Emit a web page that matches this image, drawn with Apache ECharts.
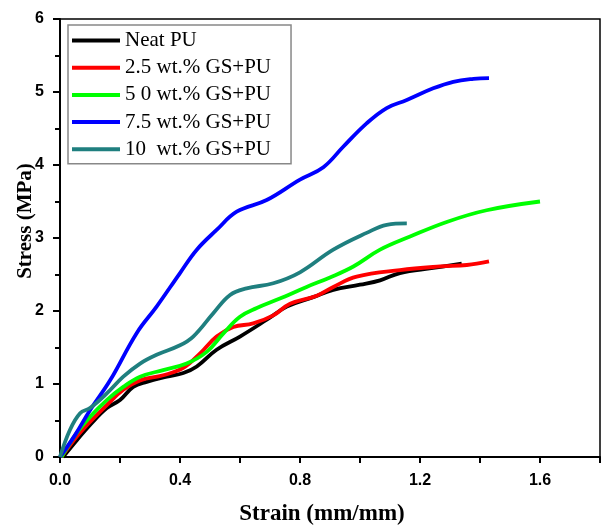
<!DOCTYPE html>
<html><head><meta charset="utf-8">
<script src="https://cdn.jsdelivr.net/npm/echarts@6/dist/echarts.min.js"></script>
<style>html,body{margin:0;padding:0;background:#fff}#c{width:601px;height:526px}</style>
</head><body><div id="c"></div>
<script>
const seriesNames = ['Neat PU', '2.5 wt.% GS+PU', '5 0 wt.% GS+PU', '7.5 wt.% GS+PU', '10  wt.% GS+PU'];
const seriesColors = ['#000000', '#ff0000', '#00ff00', '#0000ff', '#1f7f7f'];
const xTicks = [0.0, 0.4, 0.8, 1.2, 1.6];
const yTicks = [0, 1, 2, 3, 4, 5, 6];

const neatPU = [[0.01,0],[0.056,0.23],[0.1,0.44],[0.156,0.67],[0.2,0.78],[0.244,0.96],[0.289,1.03],[0.356,1.10],[0.411,1.15],[0.456,1.24],[0.522,1.47],[0.6,1.65],[0.689,1.88],[0.756,2.06],[0.844,2.19],[0.911,2.29],[1.0,2.36],[1.067,2.42],[1.133,2.52],[1.244,2.59],[1.339,2.65]];
const gs25 = [[0.005,0],[0.056,0.28],[0.1,0.48],[0.156,0.71],[0.211,0.92],[0.267,1.05],[0.344,1.12],[0.411,1.22],[0.467,1.42],[0.522,1.65],[0.578,1.78],[0.644,1.83],[0.711,1.94],[0.767,2.10],[0.856,2.21],[0.911,2.33],[0.989,2.47],[1.133,2.56],[1.267,2.61],[1.356,2.63],[1.43,2.68]];
const gs50 = [[0.005,0],[0.056,0.33],[0.1,0.55],[0.156,0.78],[0.211,0.96],[0.267,1.10],[0.344,1.19],[0.422,1.28],[0.489,1.44],[0.544,1.69],[0.6,1.92],[0.656,2.04],[0.733,2.17],[0.822,2.33],[0.9,2.46],[0.978,2.61],[1.067,2.84],[1.167,3.02],[1.289,3.22],[1.422,3.38],[1.6,3.5]];
const gs75 = [[0.0,0],[0.05,0.3],[0.1,0.64],[0.167,1.05],[0.256,1.70],[0.322,2.06],[0.4,2.52],[0.456,2.84],[0.522,3.11],[0.589,3.36],[0.689,3.52],[0.8,3.80],[0.878,3.97],[0.944,4.25],[1.022,4.57],[1.089,4.78],[1.156,4.89],[1.244,5.05],[1.311,5.14],[1.378,5.18],[1.43,5.19]];
const gs10 = [[0.0,0],[0.033,0.37],[0.067,0.6],[0.1,0.67],[0.156,0.87],[0.211,1.1],[0.267,1.28],[0.322,1.40],[0.4,1.53],[0.444,1.65],[0.511,1.97],[0.567,2.22],[0.622,2.31],[0.711,2.38],[0.8,2.53],[0.911,2.84],[1.022,3.07],[1.089,3.18],[1.156,3.2]];
const allData = [neatPU, gs25, gs50, gs75, gs10];

const chart = echarts.init(document.getElementById('c'), null, {renderer: 'canvas'});
const tickFont = {fontFamily: 'Liberation Sans', fontWeight: 'bold', fontSize: 16, color: '#000'};
chart.setOption({
  animation: false,
  backgroundColor: '#fff',
  grid: {left: 60, right: 1, top: 19, bottom: 69, containLabel: false, outerBoundsMode: 'none',
         show: true, borderColor: '#000', borderWidth: 1.5},
  xAxis: {
    type: 'value', min: 0, max: 1.8, interval: 0.4,
    name: 'Strain (mm/mm)', nameLocation: 'middle', nameGap: 46, nameMoveOverlap: false,
    nameTextStyle: {fontFamily: 'Liberation Serif', fontWeight: 'bold', fontSize: 23, color: '#000', padding: [0, 16, 0, 0]},
    axisLine: {lineStyle: {color: '#000', width: 2}},
    axisTick: {show: true, inside: false, length: 6, lineStyle: {color: '#000', width: 2}},
    minorTick: {show: true, splitNumber: 2, length: 6, lineStyle: {color: '#000', width: 2}},
    splitLine: {show: false},
    axisLabel: Object.assign({margin: 16, formatter: v => xTicks.some(t => Math.abs(t - v) < 1e-9) ? v.toFixed(1) : ''}, tickFont)
  },
  yAxis: {
    type: 'value', min: 0, max: 6, interval: 1,
    name: 'Stress (MPa)', nameLocation: 'middle', nameGap: 24, nameMoveOverlap: false,
    nameTextStyle: {fontFamily: 'Liberation Serif', fontWeight: 'bold', fontSize: 21, color: '#000', padding: [0, 0, 0, 34]},
    axisLine: {lineStyle: {color: '#000', width: 2}},
    axisTick: {show: true, inside: false, length: 7, lineStyle: {color: '#000', width: 2}},
    minorTick: {show: true, splitNumber: 2, length: 5, lineStyle: {color: '#000', width: 2}},
    splitLine: {show: false},
    axisLabel: Object.assign({margin: 16, formatter: v => yTicks.includes(v) ? String(v) : ''}, tickFont)
  },
  legend: {
    orient: 'vertical', left: 68, top: 25,
    padding: [5, 20, 4, 4],
    borderColor: '#888', borderWidth: 1.5,
    itemWidth: 48, itemHeight: 4, itemGap: 6.2,
    icon: 'rect',
    textStyle: {fontFamily: 'Liberation Serif', fontSize: 21, color: '#000'},
    data: seriesNames
  },
  series: seriesNames.map((n, i) => ({
    name: n, type: 'line', data: allData[i], smooth: 0.4, showSymbol: false, symbol: 'none',
    lineStyle: {color: seriesColors[i], width: 3.8}, itemStyle: {color: seriesColors[i]}
  }))
});
</script></body></html>
